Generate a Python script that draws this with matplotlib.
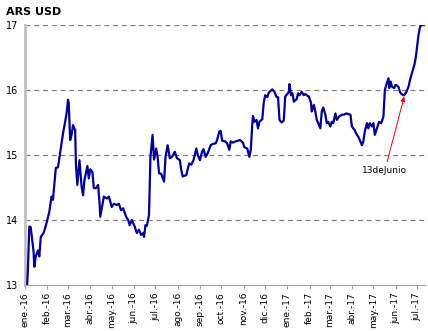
import matplotlib
matplotlib.use('Agg')
import matplotlib.pyplot as plt
import pandas as pd

# ARS per USD, daily close
dates = [
    '2016-01-04', '2016-01-05', '2016-01-07', '2016-01-09', '2016-01-13', '2016-01-14',
    '2016-01-16', '2016-01-19', '2016-01-21', '2016-01-23', '2016-01-27', '2016-01-31',
    '2016-02-04', '2016-02-07', '2016-02-09', '2016-02-11', '2016-02-13', '2016-02-16',
    '2016-02-19', '2016-02-23', '2016-02-26', '2016-02-28', '2016-03-01', '2016-03-02',
    '2016-03-04', '2016-03-06', '2016-03-08', '2016-03-11', '2016-03-12', '2016-03-14',
    '2016-03-17', '2016-03-20', '2016-03-22', '2016-03-24', '2016-03-28', '2016-03-30',
    '2016-04-01', '2016-04-04', '2016-04-06', '2016-04-09', '2016-04-12', '2016-04-14',
    '2016-04-15', '2016-04-20', '2016-04-24', '2016-04-27', '2016-05-01', '2016-05-04',
    '2016-05-08', '2016-05-11', '2016-05-14', '2016-05-17', '2016-05-21', '2016-05-24',
    '2016-05-26', '2016-05-29', '2016-06-02', '2016-06-05', '2016-06-08', '2016-06-11',
    '2016-06-14', '2016-06-15', '2016-06-17', '2016-06-19', '2016-06-22', '2016-06-24',
    '2016-06-27', '2016-06-29', '2016-07-02', '2016-07-04', '2016-07-06', '2016-07-09',
    '2016-07-13', '2016-07-15', '2016-07-18', '2016-07-21', '2016-07-24', '2016-07-28',
    '2016-07-31', '2016-08-04', '2016-08-06', '2016-08-08', '2016-08-13', '2016-08-17',
    '2016-08-20', '2016-08-23', '2016-08-27', '2016-08-29', '2016-09-01', '2016-09-04',
    '2016-09-06', '2016-09-09', '2016-09-12', '2016-09-16', '2016-09-19', '2016-09-23',
    '2016-09-25', '2016-09-28', '2016-09-30', '2016-10-02', '2016-10-06', '2016-10-09',
    '2016-10-12', '2016-10-14', '2016-10-17', '2016-10-21', '2016-10-24', '2016-10-27',
    '2016-10-31', '2016-11-02', '2016-11-06', '2016-11-09', '2016-11-11', '2016-11-13',
    '2016-11-14', '2016-11-16', '2016-11-19', '2016-11-21', '2016-11-23', '2016-11-27',
    '2016-11-29', '2016-12-01', '2016-12-04', '2016-12-06', '2016-12-09', '2016-12-11',
    '2016-12-14', '2016-12-17', '2016-12-19', '2016-12-21', '2016-12-24', '2016-12-27',
    '2016-12-29', '2017-01-01', '2017-01-03', '2017-01-04', '2017-01-06', '2017-01-08',
    '2017-01-10', '2017-01-14', '2017-01-16', '2017-01-18', '2017-01-21', '2017-01-24',
    '2017-01-26', '2017-01-29', '2017-01-31', '2017-02-03', '2017-02-04', '2017-02-07',
    '2017-02-09', '2017-02-11', '2017-02-13', '2017-02-16', '2017-02-18', '2017-02-20',
    '2017-02-23', '2017-02-25', '2017-02-27', '2017-03-02', '2017-03-04', '2017-03-06',
    '2017-03-09', '2017-03-11', '2017-03-14', '2017-03-18', '2017-03-21', '2017-03-24',
    '2017-03-27', '2017-03-30', '2017-04-01', '2017-04-03', '2017-04-05', '2017-04-08',
    '2017-04-10', '2017-04-12', '2017-04-15', '2017-04-17', '2017-04-19', '2017-04-22',
    '2017-04-24', '2017-04-26', '2017-04-29', '2017-05-01', '2017-05-03', '2017-05-05',
    '2017-05-09', '2017-05-12', '2017-05-15', '2017-05-17', '2017-05-19', '2017-05-22',
    '2017-05-23', '2017-05-25', '2017-05-27', '2017-05-30', '2017-06-01', '2017-06-05',
    '2017-06-07', '2017-06-09', '2017-06-12', '2017-06-13', '2017-06-16', '2017-06-19',
    '2017-06-21', '2017-06-23', '2017-06-27', '2017-06-29', '2017-07-01', '2017-07-03',
    '2017-07-05', '2017-07-07', '2017-07-12',
]
ars_usd = [
    13.00, 13.23, 13.90, 13.89, 13.51, 13.28,
    13.44, 13.53, 13.44, 13.74, 13.80, 13.95,
    14.13, 14.36, 14.31, 14.56, 14.80, 14.81,
    15.03, 15.33, 15.51, 15.64, 15.85, 15.80,
    15.23, 15.31, 15.46, 15.38, 14.87, 14.54,
    14.92, 14.51, 14.38, 14.62, 14.83, 14.64,
    14.78, 14.74, 14.49, 14.49, 14.54, 14.26,
    14.05, 14.36, 14.33, 14.36, 14.20, 14.25,
    14.23, 14.25, 14.15, 14.18, 14.05, 14.00,
    13.92, 14.00, 13.90, 13.80, 13.85, 13.77,
    13.80, 13.74, 13.92, 13.91, 14.08, 14.97,
    15.31, 14.93, 15.10, 14.97, 14.72, 14.71,
    14.59, 14.97, 15.15, 14.95, 14.97, 15.05,
    14.95, 14.92, 14.77, 14.67, 14.69, 14.87,
    14.85, 14.92, 15.10, 15.00, 14.92, 15.05,
    15.09, 14.97, 15.03, 15.15, 15.17, 15.18,
    15.23, 15.36, 15.37, 15.22, 15.21, 15.18,
    15.08, 15.21, 15.19, 15.21, 15.22, 15.23,
    15.19, 15.12, 15.10, 14.97, 15.08, 15.46,
    15.60, 15.51, 15.54, 15.41, 15.51, 15.55,
    15.80, 15.92, 15.89, 15.96, 15.99, 16.01,
    15.97, 15.89, 15.89, 15.54, 15.50, 15.53,
    15.90, 15.94, 15.97, 16.09, 15.92, 15.95,
    15.82, 15.86, 15.95, 15.92, 15.97, 15.92,
    15.94, 15.91, 15.90, 15.80, 15.67, 15.77,
    15.67, 15.54, 15.49, 15.41, 15.67, 15.73,
    15.62, 15.49, 15.51, 15.44, 15.51, 15.49,
    15.64, 15.54, 15.59, 15.62, 15.62, 15.64,
    15.63, 15.62, 15.44, 15.41, 15.38, 15.31,
    15.28, 15.23, 15.15, 15.21, 15.36, 15.49,
    15.41, 15.49, 15.44, 15.49, 15.31, 15.38,
    15.51, 15.49, 15.59, 16.00, 16.08, 16.18,
    16.03, 16.13, 16.05, 16.03, 16.08, 16.05,
    15.97, 15.94, 15.92, 15.92, 15.97, 16.05,
    16.15, 16.23, 16.38, 16.49, 16.67, 16.85,
    16.97, 17.00, 17.00,
]

month_ticks = pd.date_range('2016-01-01', '2017-07-01', freq='MS')
month_labels = ['ene.-16', 'feb.-16', 'mar.-16', 'abr.-16', 'may.-16', 'jun.-16',
                'jul.-16', 'ago.-16', 'sep.-16', 'oct.-16', 'nov.-16', 'dic.-16',
                'ene.-17', 'feb.-17', 'mar.-17', 'abr.-17', 'may.-17', 'jun.-17',
                'jul.-17']
y_ticks = [13, 14, 15, 16, 17]

note_date = '2017-06-13'
note_value = 15.92

x = pd.to_datetime(dates)

fig = plt.figure(figsize=(4.28, 3.31), dpi=100)
ax = fig.add_axes([0.0584, 0.139, 0.9346, 0.7855])

for yv in y_ticks[1:]:
    ax.axhline(yv, color='#808080', lw=0.9, ls=(0, (4, 3)), zorder=1)

ax.plot(x, ars_usd, color='#000096', lw=1.6, zorder=3, solid_joinstyle='round')

ax.set_xlim(pd.Timestamp('2016-01-01'), pd.Timestamp('2017-07-12'))
ax.set_ylim(13, 17)
ax.set_yticks(y_ticks)
ax.set_yticklabels([str(v) for v in y_ticks], fontsize=7)
ax.set_xticks(month_ticks)
ax.set_xticklabels(month_labels, rotation=90, fontsize=6.5)

ax.spines['top'].set_visible(False)
ax.spines['right'].set_visible(False)
ax.spines['left'].set_color('#c0c0c0')
ax.spines['left'].set_linewidth(2)
ax.spines['bottom'].set_color('#a0a0a0')
ax.spines['bottom'].set_linewidth(0.8)
ax.tick_params(axis='x', color='#a0a0a0', length=3, width=0.8, pad=2)
ax.tick_params(axis='y', length=0, pad=5)

ax.annotate('13deJunio', xy=(pd.Timestamp(note_date), note_value - 0.02),
            xytext=(pd.Timestamp('2017-05-17'), 14.83),
            ha='center', va='top', fontsize=6.5,
            arrowprops=dict(arrowstyle='-|>', color='red', lw=0.7,
                            mutation_scale=7, shrinkA=1, shrinkB=0))

fig.text(0.015, 0.965, 'ARS USD', fontsize=8, fontweight='bold', va='center')

fig.savefig('out.png', dpi=100)
